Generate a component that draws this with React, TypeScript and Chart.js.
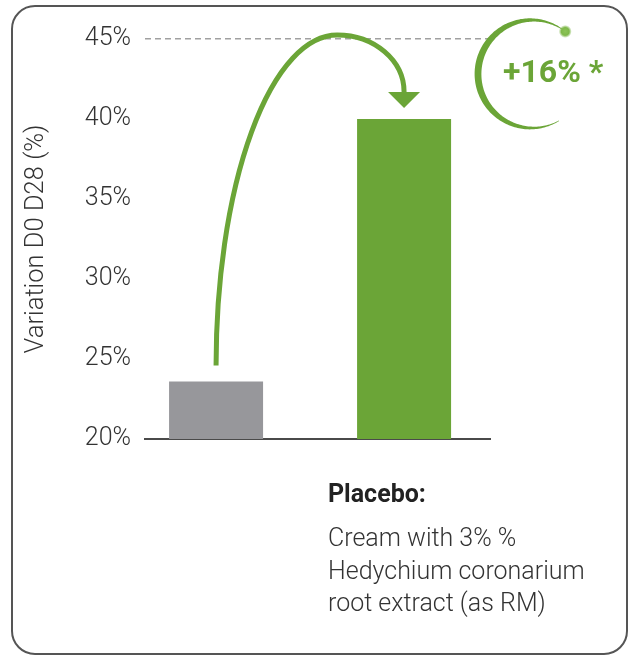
import React, { useEffect, useRef } from 'react';
import { Chart, registerables } from 'chart.js';

Chart.register(...registerables);

// ---- data ----
const categories = ['Placebo', 'Cream with 3% % Hedychium coronarium root extract (as RM)'];
const categoryPositions = [0, 1];
const variationValues = [23.6, 40];
const yTickValues = [20, 25, 30, 35, 40, 45];
const yTickLabels = ['20%', '25%', '30%', '35%', '40%', '45%'];
const axisTitle = 'Variation D0 D28 (%)';
const increaseLabel = '+16% *';
const legendTitle = 'Placebo:';
const legendLines = ['Cream with 3% %', 'Hedychium coronarium', 'root extract (as RM)'];

// ---- styles ----
const GREEN = '#6ba537';
const GRAY = '#97979b';
const BAR_COLORS = [GRAY, GREEN];
const FONT = 'Roboto, "Noto Sans", sans-serif';

const annotationPlugin = {
  id: 'arrowAnnotation',
  afterDatasetsDraw(chart: any) {
    const ctx = chart.ctx as CanvasRenderingContext2D;
    const meta = chart.getDatasetMeta(0);
    const b0 = meta.data[0];
    const b1 = meta.data[1];
    if (!b0 || !b1) return;
    const { top, right } = chart.chartArea;

    const sx = b0.x;
    const sy = b0.y - 16;
    const ex = b1.x;
    const tipY = b1.y - 11;
    const headTop = tipY - 16;
    const px = sx + 0.645 * (ex - sx);
    const py = top - 4;

    ctx.save();
    ctx.strokeStyle = GREEN;
    ctx.lineWidth = 5;
    ctx.lineCap = 'butt';
    ctx.beginPath();
    ctx.ellipse(px, sy, px - sx, sy - py, 0, Math.PI, 1.5 * Math.PI);
    ctx.ellipse(px, headTop, ex - px, headTop - py, 0, 1.5 * Math.PI, 2 * Math.PI);
    ctx.stroke();

    ctx.fillStyle = GREEN;
    ctx.beginPath();
    ctx.moveTo(ex - 16, headTop);
    ctx.lineTo(ex + 16, headTop);
    ctx.lineTo(ex, tipY);
    ctx.closePath();
    ctx.fill();

    // ring around the increase label
    const cx = right + 42;
    const cy = top + 35;
    const r = 54;
    const a0 = (-52 * Math.PI) / 180;
    const span = (248 * Math.PI) / 180;
    const N = 160;
    const w = (s: number) => 0.6 + 6.2 * Math.pow(Math.sin(Math.PI * s), 1.1);
    ctx.beginPath();
    for (let i = 0; i <= N; i++) {
      const s = i / N;
      const a = a0 - span * s;
      const rr = r + w(s) / 2;
      const x = cx + rr * Math.cos(a);
      const y = cy + rr * Math.sin(a);
      if (i === 0) ctx.moveTo(x, y);
      else ctx.lineTo(x, y);
    }
    for (let i = N; i >= 0; i--) {
      const s = i / N;
      const a = a0 - span * s;
      const rr = r - w(s) / 2;
      ctx.lineTo(cx + rr * Math.cos(a), cy + rr * Math.sin(a));
    }
    ctx.closePath();
    ctx.fill();

    const dx = cx + r * Math.cos(a0);
    const dy = cy + r * Math.sin(a0);
    const g = ctx.createRadialGradient(dx, dy, 0, dx, dy, 6.5);
    g.addColorStop(0, '#8cc457');
    g.addColorStop(0.6, '#7fb84a');
    g.addColorStop(1, 'rgba(127,184,74,0)');
    ctx.fillStyle = g;
    ctx.beginPath();
    ctx.arc(dx, dy, 6.5, 0, Math.PI * 2);
    ctx.fill();
    ctx.restore();
  },
};

export default function App() {
  const ref = useRef<HTMLCanvasElement>(null);

  useEffect(() => {
    document.body.style.margin = '0';
    const canvas = ref.current;
    if (!canvas) return;
    const chart = new Chart(canvas, {
      type: 'bar',
      data: {
        labels: categories,
        datasets: [
          {
            data: categoryPositions.map((x, i) => ({ x, y: variationValues[i] })),
            backgroundColor: BAR_COLORS,
            barPercentage: 0.5,
            categoryPercentage: 1,
          } as any,
        ],
      },
      options: {
        animation: false,
        responsive: false,
        maintainAspectRatio: false,
        layout: { padding: { left: 0, right: 139, top: 39, bottom: 219 } },
        plugins: { legend: { display: false }, tooltip: { enabled: false } },
        scales: {
          x: {
            type: 'linear',
            offset: false,
            min: -0.378,
            max: 1.457,
            afterBuildTicks: (s: any) => {
              s.ticks = categoryPositions.map((v) => ({ value: v }));
            },
            ticks: { display: false },
            grid: { display: false, drawTicks: false, offset: false },
            border: { display: true, color: '#4a4a4a', width: 2 },
          },
          y: {
            min: 20,
            max: 45,
            afterBuildTicks: (s: any) => {
              s.ticks = yTickValues.map((v) => ({ value: v }));
            },
            afterFit: (s: any) => {
              s.width = 145;
            },
            title: {
              display: true,
              text: axisTitle,
              color: '#333333',
              font: { family: FONT, size: 25.5, weight: '300' as any },
              padding: { top: 21, bottom: 0 },
            },
            ticks: {
              padding: 14,
              color: '#333333',
              font: { family: FONT, size: 25, weight: '300' as any },
              callback: (v: any) => yTickLabels[yTickValues.indexOf(Number(v))] ?? '',
            },
            grid: {
              drawTicks: false,
              lineWidth: 1.5,
              color: (c: any) => (c.tick && c.tick.value === 45 ? '#a0a0a0' : 'rgba(0,0,0,0)'),
            },
            border: { display: false, dash: [6, 4] },
          },
        },
      } as any,
      plugins: [annotationPlugin],
    });
    return () => chart.destroy();
  }, []);

  return (
    <div style={{ position: 'relative', width: 629, height: 658, background: '#fff', overflow: 'hidden', fontFamily: FONT }}>
      <div
        style={{
          position: 'absolute',
          left: 11,
          top: 5,
          width: 617,
          height: 650,
          boxSizing: 'border-box',
          border: '2px solid #555',
          borderRadius: 24,
        }}
      />
      <canvas ref={ref} width={629} height={658} style={{ position: 'absolute', left: 0, top: 0, width: 629, height: 658 }} />
      <div
        style={{
          position: 'absolute',
          left: 503,
          top: 55,
          fontSize: 32,
          lineHeight: '32px',
          fontWeight: 700,
          color: GREEN,
          whiteSpace: 'nowrap',
        }}
      >
        {increaseLabel}
      </div>
      <div
        style={{
          position: 'absolute',
          left: 328,
          top: 481,
          fontSize: 25,
          lineHeight: '25px',
          fontWeight: 700,
          color: '#222',
          whiteSpace: 'nowrap',
        }}
      >
        {legendTitle}
      </div>
      <div
        style={{
          position: 'absolute',
          left: 328,
          top: 522,
          fontSize: 25,
          lineHeight: '32.5px',
          fontWeight: 300,
          color: '#333',
          whiteSpace: 'nowrap',
        }}
      >
        {legendLines.map((l, i) => (
          <div key={i}>{l}</div>
        ))}
      </div>
    </div>
  );
}
